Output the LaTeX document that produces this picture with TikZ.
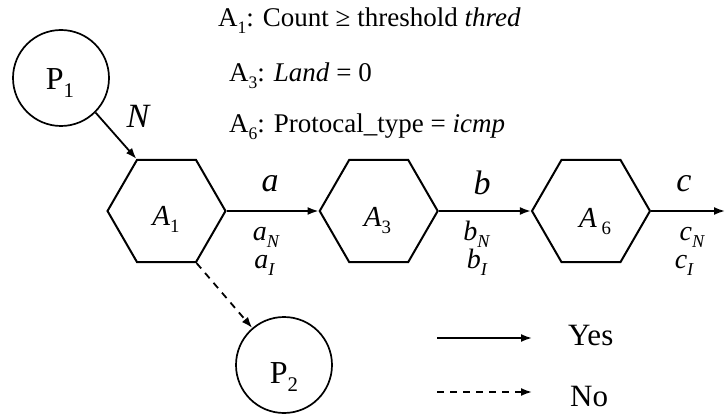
\documentclass[tikz,border=0pt]{standalone}
\usepackage{fontspec}
\setmainfont{Liberation Serif}
\usetikzlibrary{shapes.geometric,arrows.meta}
\newcommand\sbs[1]{\raisebox{-0.25em}{\scalebox{0.65}{#1}}}
\begin{document}
\begin{tikzpicture}[x=1pt,y=-1pt,
  font=\fontsize{27}{31}\selectfont,
  hexa/.style={draw,line width=2pt,regular polygon,regular polygon sides=6,minimum size=118pt,inner sep=0pt},
  place/.style={draw,line width=1.7pt,circle,minimum size=96pt,inner sep=0pt},
  ptxt/.style={anchor=base,inner sep=0pt,font=\fontsize{32}{36}\selectfont},
  yes/.style={line width=1.8pt,-{Latex[length=11pt,width=8pt]}},
  no/.style={yes,dash pattern=on 7pt off 6pt},
  lab/.style={anchor=base,inner sep=0pt,font=\fontsize{34}{38}\selectfont\itshape},
  sublab/.style={anchor=base,inner sep=0pt,font=\fontsize{28}{32}\selectfont\itshape},
  hlab/.style={anchor=base,inner sep=0pt,font=\fontsize{29}{33}\selectfont\itshape},
  txt/.style={anchor=base west,inner sep=0pt},
  legtxt/.style={anchor=base west,inner sep=0pt,font=\fontsize{31}{35}\selectfont}]
\useasboundingbox (0,0) rectangle (725,414);
\node[place] (P1) at (61,78) {};
\node[place] (P2) at (284,365) {};
\node[ptxt] (tP1) at (60,90) {P\sbs{1}};
\node[ptxt] (tP2) at (284,383) {P\sbs{2}};
\node[hexa] (A1) at (166.5,211) {};
\node[hexa] (A3) at (378.7,211) {};
\node[hexa] (A6) at (591,211) {};
\node[hlab] (tA1) at (166,225) {A\sbs{\upshape 1}};
\node[hlab] (tA3) at (377.5,226) {A\sbs{\upshape 3}};
\node[hlab] (tA6) at (595,227) {A\,\sbs{\upshape 6}};
\coordinate (out) at (725,211);
\draw[yes] (P1.-45) -- (A1.120);
\draw[yes] (A1.east) -- (A3.west);
\draw[yes] (A3.east) -- (A6.west);
\draw[yes] (A6.east) -- (out);
\draw[no] (A1.300) -- (P2);
\node[lab] (N) at (138,128) {N};
\node[lab] (la) at (270,192) {a};
\node[sublab] (laN) at (266,240) {a\sbs{N}};
\node[sublab] (laI) at (264.5,268) {a\sbs{I}};
\node[lab] (lb) at (482,195) {b};
\node[sublab] (lbN) at (476.5,240) {b\sbs{N}};
\node[sublab] (lbI) at (477,268) {b\sbs{I}};
\node[lab] (lc) at (684,192) {c};
\node[sublab] (lcN) at (692,240) {c\sbs{N}};
\node[sublab] (lcI) at (684,268) {c\sbs{I}};
\node[txt] (t1) at (218,27) {A\sbs{1}: Count ≥ threshold \textit{thred}};
\node[txt] (t2) at (229,81.5) {A\sbs{3}: \textit{Land} = 0};
\node[txt] (t3) at (229,132.5) {A\sbs{6}: Protocal\_type = \textit{icmp}};
\coordinate (ys) at (437,338);
\coordinate (ye) at (532,338);
\coordinate (ns) at (437,392);
\coordinate (ne) at (532,392);
\draw[yes] (ys) -- (ye);
\draw[no] (ns) -- (ne);
\node[legtxt] (yt) at (568,345) {Yes};
\node[legtxt] (nt) at (570,406) {No};
\end{tikzpicture}
\end{document}
